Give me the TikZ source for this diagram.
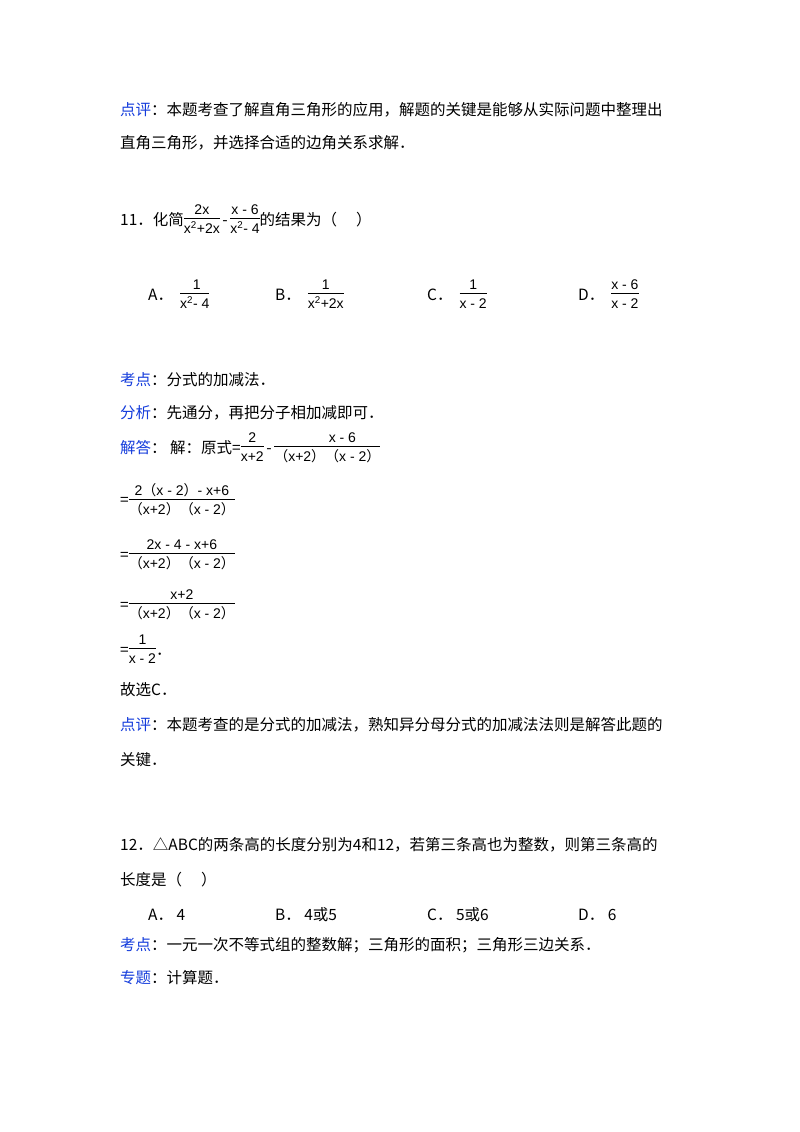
\documentclass[tikz,border=0pt]{standalone}
\usepackage{fontspec}
\setmainfont{Noto Sans CJK SC}
\newfontfamily\cjk{Noto Sans CJK SC}
\newfontfamily\fsans{Liberation Sans}
\newcommand\fr[2]{{\fsans\fontsize{14}{15}\selectfont\begin{tabular}{@{}c@{}}#1\\[-1pt]\hline\rule{0pt}{15pt}#2\end{tabular}}}
\newcommand\lp{{\cjk （}}
\newcommand\rp{{\cjk ）}}
\newcommand\sq{\textsuperscript{2}}
\definecolor{lbl}{RGB}{20,60,220}
\begin{document}
\begin{tikzpicture}[x=1pt,y=-1pt,
  tx/.style={anchor=base west,inner sep=0pt,font=\fontsize{15.5}{18}\selectfont}]
\useasboundingbox (0,0) rectangle (800,1132);
\fill[white] (0,0) rectangle (800,1132);
\node[tx] (l1) at (120,115) {\textcolor{lbl}{点评}：本题考查了解直角三角形的应用，解题的关键是能够从实际问题中整理出};
\node[tx] (l2) at (120,148) {直角三角形，并选择合适的边角关系求解．};
\node[tx] (q11) at (120,225) {11．化简\fr{2x}{x\sq+2x}\,-\,\fr{x - 6}{x\sq - 4}的结果为（\quad\ ）};
\node[tx] (oa) at (148,300) {A．\ \ \fr{\ 1\ }{x\sq - 4}};
\node[tx] (ob) at (275,300) {B．\ \ \fr{1}{x\sq+2x}};
\node[tx] (oc) at (427,300) {C．\ \ \fr{1}{x - 2}};
\node[tx] (od) at (578,300) {D．\ \ \fr{x - 6}{x - 2}};
\node[tx] (k1) at (120,385) {\textcolor{lbl}{考点}：分式的加减法．};
\node[tx] (f1) at (120,418) {\textcolor{lbl}{分析}：先通分，再把分子相加减即可．};
\node[tx] (j1) at (120,453) {\textcolor{lbl}{解答}：\ 解：原式=\fr{2}{x+2}\,-\,\fr{\hspace{30pt}x - 6\hspace{30pt}}{\lp x+2\rp\lp x - 2\rp}};
\node[tx] (s1) at (120,505) {=\fr{2\lp x - 2\rp - x+6}{\lp x+2\rp\lp x - 2\rp}};
\node[tx] (s2) at (120,560) {=\fr{2x - 4 - x+6}{\lp x+2\rp\lp x - 2\rp}};
\node[tx] (s3) at (120,610) {=\fr{x+2}{\lp x+2\rp\lp x - 2\rp}};
\node[tx] (s4) at (120,655) {=\fr{1}{x - 2}．};
\node[tx] (g1) at (120,695) {故选C．};
\node[tx] (p2) at (120,730) {\textcolor{lbl}{点评}：本题考查的是分式的加减法，熟知异分母分式的加减法法则是解答此题的};
\node[tx] (p3) at (120,765) {关键．};
\node[tx] (q12) at (120,850) {12．△ABC的两条高的长度分别为4和12，若第三条高也为整数，则第三条高的};
\node[tx] (q12b) at (120,885) {长度是（\quad\ ）};
\node[tx] (pa) at (148,920) {A．\ 4};
\node[tx] (pb) at (275,920) {B．\ 4或5};
\node[tx] (pc) at (427,920) {C．\ 5或6};
\node[tx] (pd) at (578,920) {D．\ 6};
\node[tx] (k2) at (120,950) {\textcolor{lbl}{考点}：一元一次不等式组的整数解；三角形的面积；三角形三边关系．};
\node[tx] (z2) at (120,983) {\textcolor{lbl}{专题}：计算题．};
\end{tikzpicture}
\end{document}
